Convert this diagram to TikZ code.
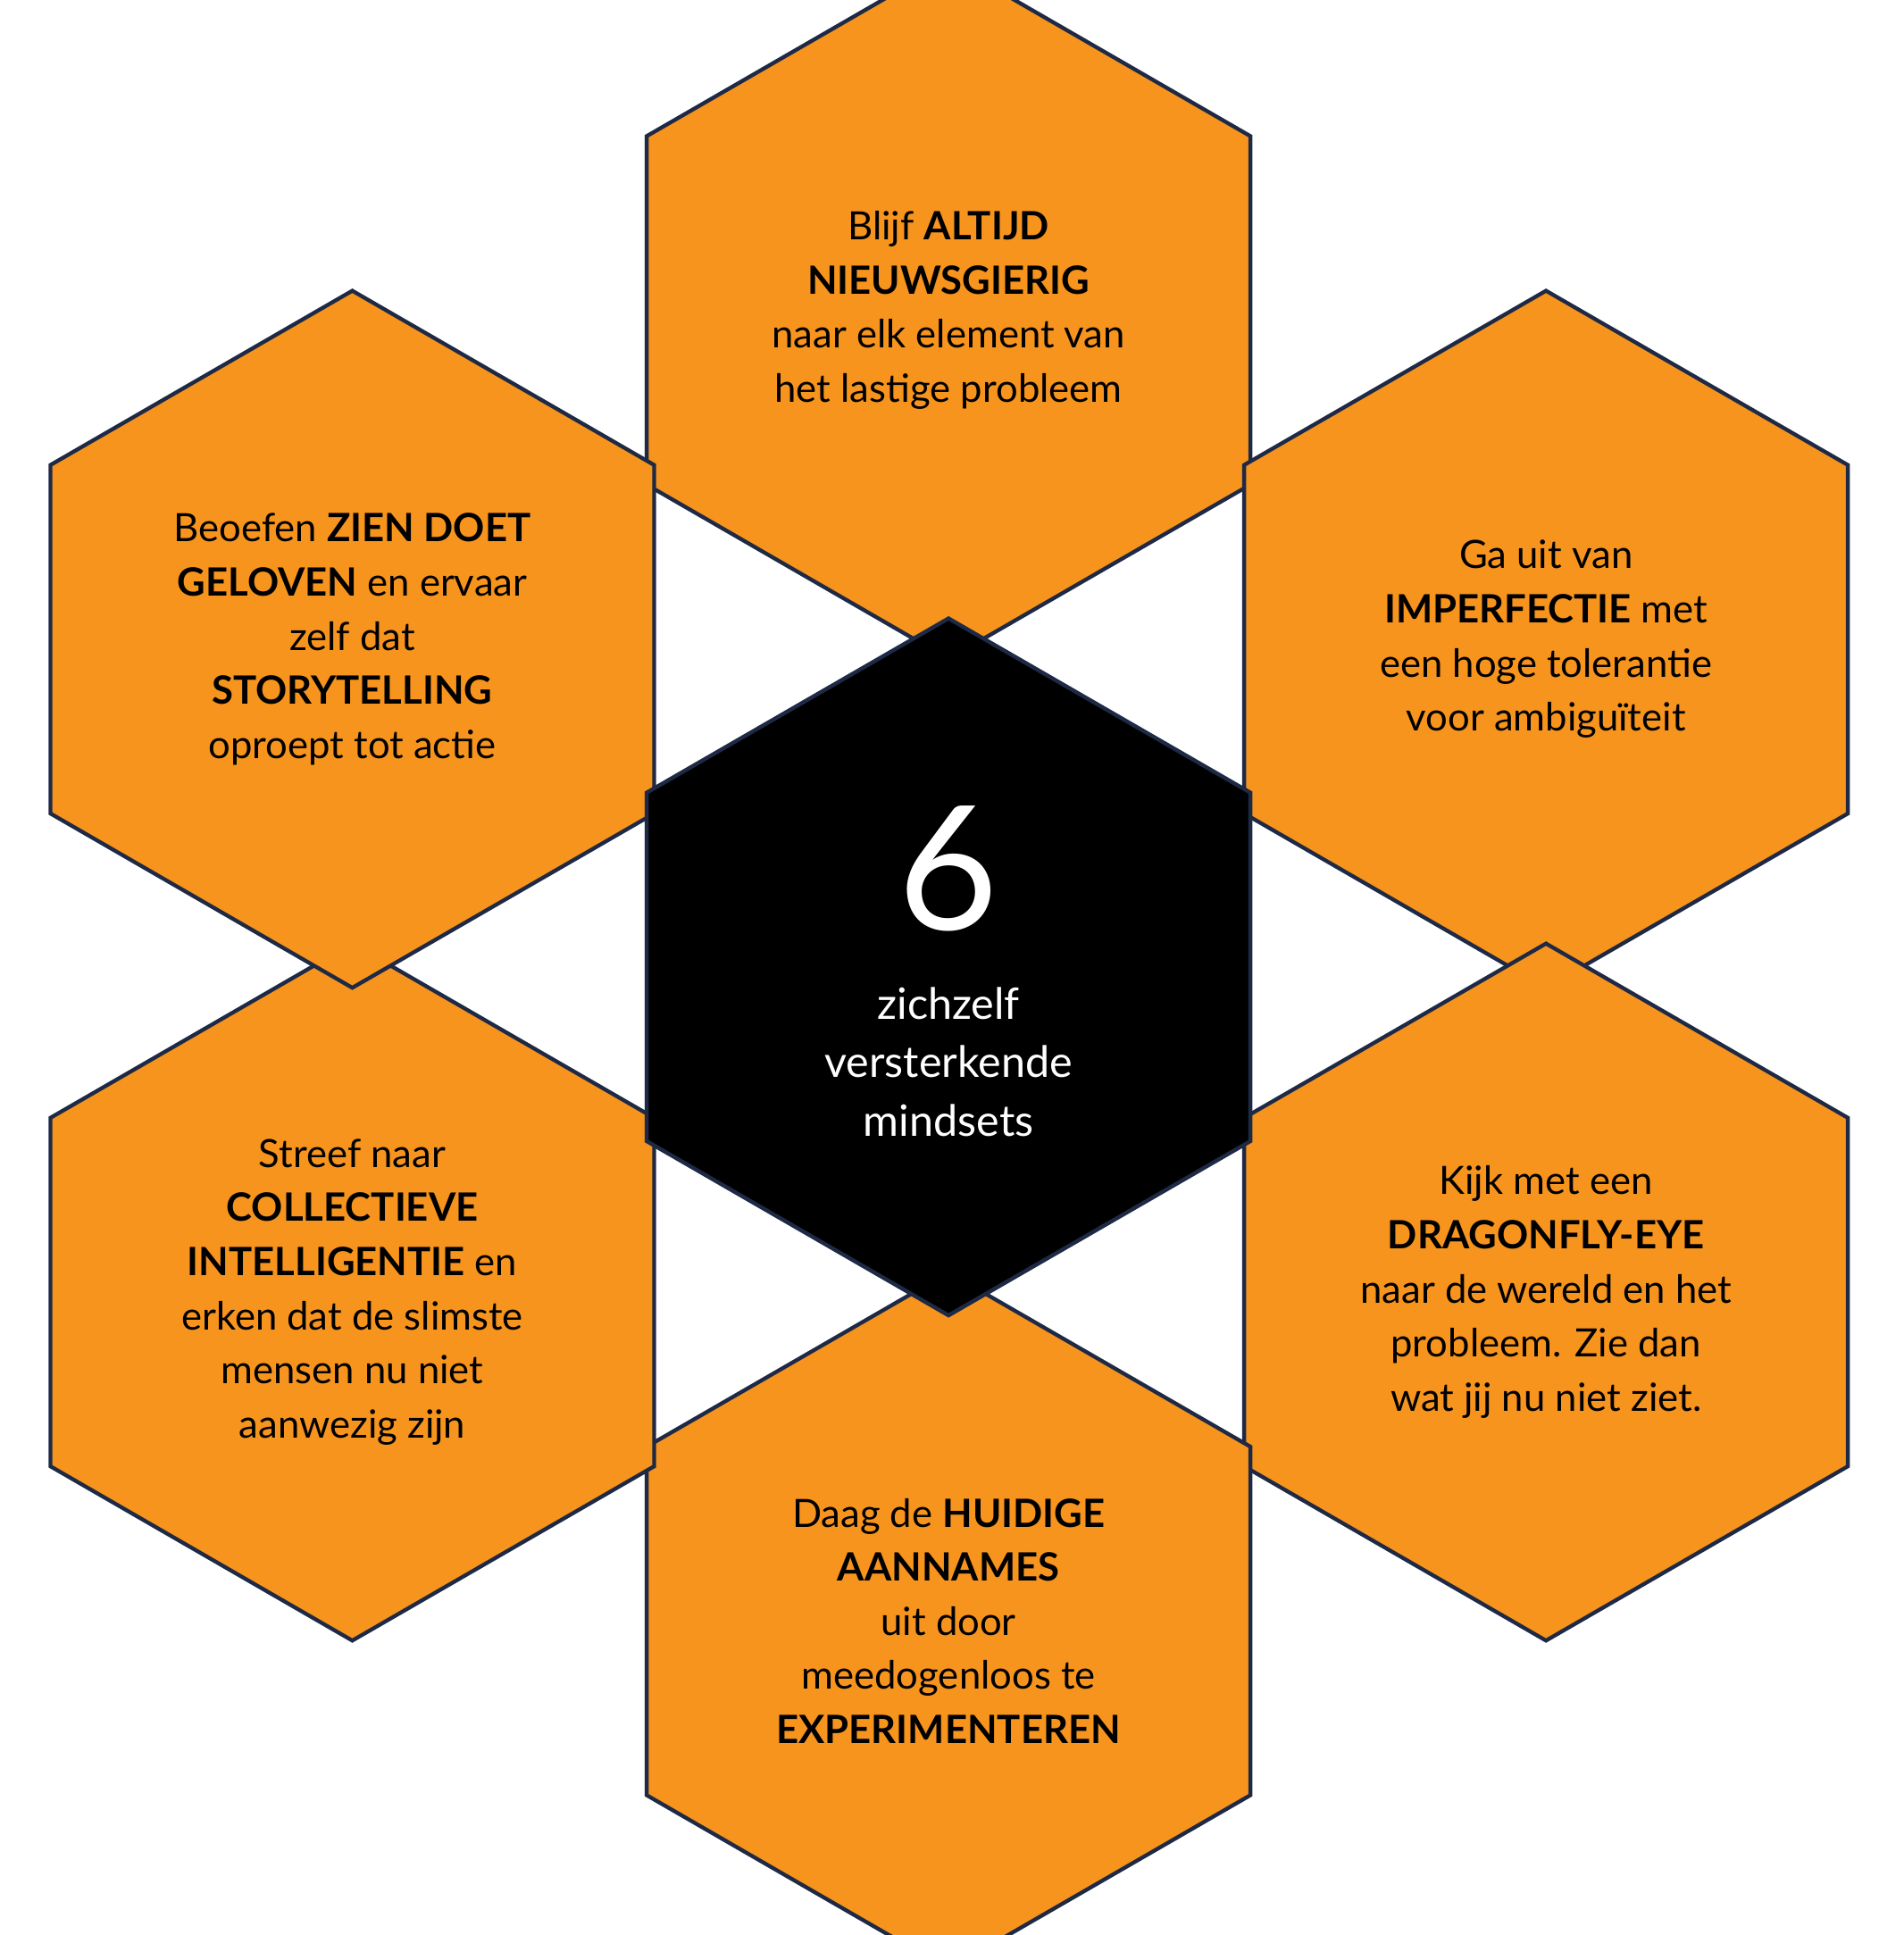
\documentclass[tikz,border=0pt]{standalone}
\usepackage{fontspec}
\setmainfont{Lato}
\usetikzlibrary{shapes.geometric}
\definecolor{hexorange}{HTML}{F7941D}
\definecolor{hexline}{HTML}{1E2A45}
\tikzset{ hexa/.style = { regular polygon % cell
        , regular polygon sides = 6
        , shape border rotate = 30
        , draw = hexline
        , line width = 1.8pt
        , fill = hexorange
        , inner sep = 0pt
        , minimum size = 11.32cm
        , align = center
        , font = \fontsize{18}{25}\selectfont
        }
        , w/.style = { align = center % white text
        , text = white
        }
        }

\begin{document}
\begin{tikzpicture}[x=0.02cm, y=-0.02cm]
        \useasboundingbox (0,0) rectangle (1545,1571);
        \node [hexa](n1) at (770,252) {Blijf \textbf{ALTIJD}\\\textbf{NIEUWSGIERIG}\\naar elk element van\\het lastige probleem};
        \node [hexa](n2) at (1255,519) {Ga uit van\\\textbf{IMPERFECTIE} met\\een hoge tolerantie\\voor ambiguïteit};
        \node [hexa](n3) at (1255,1049) {Kijk met een\\\textbf{DRAGONFLY-EYE}\\naar de wereld en het\\probleem. Zie dan\\wat jij nu niet ziet.};
        \node [hexa](n4) at (770,1316) {Daag de \textbf{HUIDIGE}\\\textbf{AANNAMES}\\uit door\\meedogenloos te\\\textbf{EXPERIMENTEREN}};
        \node [hexa](n5) at (286,1049) {Streef naar\\\textbf{COLLECTIEVE}\\\textbf{INTELLIGENTIE} en\\erken dat de slimste\\mensen nu niet\\aanwezig zijn};
        \node [hexa](n6) at (286,519) {Beoefen \textbf{ZIEN DOET}\\\textbf{GELOVEN} en ervaar\\zelf dat\\\textbf{STORYTELLING}\\oproept tot actie};
        \node [hexa, fill=black](n7) at (770,785) {};
        \node [w, font=\fontsize{80}{80}\selectfont](six) at (770,705) {6};
        \node [w, font=\fontsize{20}{27}\selectfont](sub) at (770,862) {zichzelf\\versterkende\\mindsets};
\end{tikzpicture}
\end{document}
